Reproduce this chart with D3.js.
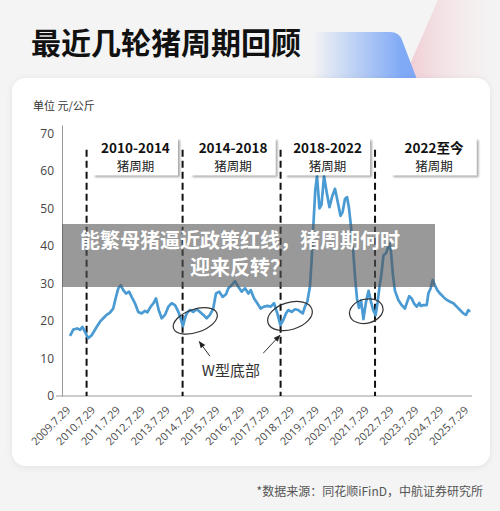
<!DOCTYPE html>
<html><head><meta charset="utf-8">
<script src="https://cdn.jsdelivr.net/npm/d3@7"></script>
<style>
html,body{margin:0;padding:0;background:#f4f4f4;}
svg{display:block;font-family:"Noto Sans CJK SC","Noto Sans",sans-serif;}
</style></head>
<body>
<svg id="c" width="500" height="511"></svg>
<script>
// ---------- data ----------
const dates = ["2009-09-27","2009-11-14","2010-01-12","2010-02-21","2010-03-28","2010-05-04","2010-06-21","2010-08-11","2010-10-23","2010-12-11",
"2011-01-28","2011-03-18","2011-05-06","2011-06-23","2011-08-03","2011-09-06","2011-10-11","2011-11-18","2011-12-27","2012-02-11",
"2012-03-20","2012-05-08","2012-06-25","2012-08-15","2012-10-02","2012-11-06","2012-12-25","2013-02-02","2013-03-12","2013-04-21",
"2013-06-04","2013-07-22","2013-09-10","2013-10-29","2013-12-17","2014-02-04","2014-03-09","2014-04-12","2014-05-11","2014-06-06",
"2014-07-24","2014-09-11","2014-10-29","2014-12-19","2015-02-06","2015-03-26","2015-05-13","2015-07-01","2015-08-10","2015-09-28",
"2015-11-17","2016-01-05","2016-02-08","2016-03-27","2016-05-15","2016-07-03","2016-08-22","2016-10-10","2016-11-28","2017-01-03",
"2017-02-20","2017-04-08","2017-05-27","2017-07-15","2017-09-03","2017-10-22","2017-12-10","2018-01-27","2018-03-14","2018-04-24",
"2018-06-03","2018-07-07","2018-08-26","2018-10-14","2018-12-01","2019-02-05","2019-03-09","2019-04-12","2019-05-21","2019-06-15",
"2019-07-09","2019-08-08","2019-09-02","2019-10-08","2019-11-07","2019-12-14","2020-01-20","2020-03-03","2020-04-09","2020-05-23",
"2020-06-29","2020-08-12","2020-09-11","2020-10-17","2020-11-16","2020-12-15","2021-01-14","2021-02-13","2021-03-12","2021-04-11",
"2021-05-10","2021-06-09","2021-07-15","2021-08-21","2021-09-28","2021-11-04","2021-12-03","2022-01-09","2022-02-08","2022-03-07",
"2022-04-06","2022-05-05","2022-06-11","2022-07-10","2022-08-02","2022-08-23","2022-09-22","2022-10-21","2022-12-09","2023-01-28",
"2023-03-16","2023-04-19","2023-05-18","2023-06-23","2023-07-26","2023-09-05","2023-10-13","2023-11-03","2023-12-11","2024-01-30",
"2024-02-23","2024-03-28","2024-04-27","2024-05-30","2024-07-03","2024-08-13","2024-09-30","2024-11-20","2025-01-07","2025-02-25",
"2025-04-14","2025-06-02","2025-07-20","2025-08-29","2025-10-02","2025-10-27"];
const prices = [16.0,17.7,18.0,17.6,18.4,17.1,15.4,16.2,18.4,19.8,
20.7,21.6,22.2,23.3,26.4,28.7,29.5,28.2,27.3,27.8,
26.4,24.7,22.4,22.0,22.7,22.3,23.8,24.7,26.0,22.9,
20.7,21.6,23.8,24.7,24.2,22.4,20.7,18.6,20.7,22.0,
22.9,22.4,23.1,22.4,21.6,20.7,21.6,23.3,27.3,27.8,
26.4,27.1,28.7,29.5,30.6,29.1,27.8,28.7,27.3,28.2,
26.0,24.7,23.3,23.8,24.0,23.8,24.7,22.0,18.9,20.2,
22.0,22.9,22.4,23.1,22.9,22.0,23.8,25.1,29.1,36.2,
45.0,55.0,58.6,50.0,51.0,58.6,54.5,50.3,53.0,55.2,
52.0,48.0,49.0,52.5,53.0,50.0,45.0,39.0,32.0,26.0,
23.5,25.5,20.5,25.0,28.0,25.0,23.0,21.5,25.0,29.0,
32.7,37.5,38.0,39.5,40.6,38.5,32.0,28.0,25.6,24.2,
23.3,25.1,26.6,26.0,24.7,23.8,24.8,24.0,24.2,24.2,
27.3,28.7,30.9,29.5,28.2,27.3,26.4,25.6,25.1,24.7,
23.8,22.9,22.0,21.6,22.9,22.4];

const xDomain = ["2009-06-01","2025-11-25"];
const yTicks = [0,10,20,30,40,50,60,70];
const yMax = 72.2;
const xTickDates = ["2009-07-29","2010-07-29","2011-07-29","2012-07-29","2013-07-29","2014-07-29","2015-07-29","2016-07-29",
"2017-07-29","2018-07-29","2019-07-29","2020-07-29","2021-07-29","2022-07-29","2023-07-29","2024-07-29","2025-07-29"];
const xTickLabels = ["2009.7.29","2010.7.29","2011.7.29","2012.7.29","2013.7.29","2014.7.29","2015.7.29","2016.7.29",
"2017.7.29","2018.7.29","2019.7.29","2020.7.29","2021.7.29","2022.7.29","2023.7.29","2024.7.29","2025.7.29"];

const boundaryDates = ["2010-05-28","2014-04-07","2018-03-16","2022-01-01"];
const boundaryTop = 65.6;
const cycleNames = ["2010-2014","2014-2018","2018-2022","2022至今"];
const cycleSub = "猪周期";
const cycleLabelDates = ["2012-05-15","2016-04-16","2020-02-03","2024-05-16"];
const cycleLabelTop = 68.7;

const ellipseDates = ["2014-10-10","2018-08-01","2021-08-25"];
const ellipseValues = [20.0,21.3,22.6];
const arrowFrom = [["2015-05-13",10.6],["2017-07-04",11.4]];
const arrowTo = [["2014-12-08",14.5],["2018-03-07",16.2]];
const wNote = {date:"2016-03-17", value:5.3, text:"W型底部"};

const title = "最近几轮猪周期回顾";
const unitText = "单位 元/公斤";
const sourceText = "*数据来源：同花顺iFinD，中航证券研究所";
const bannerLines = ["能繁母猪逼近政策红线，猪周期何时","迎来反转？"];

// ---------- drawing ----------
const parse = d3.timeParse("%Y-%m-%d");
const svg = d3.select("#c");
const defs = svg.append("defs");

const gb = defs.append("linearGradient").attr("id","gBlue").attr("x1","0").attr("x2","1").attr("y1","0").attr("y2","0");
gb.append("stop").attr("offset","0").attr("stop-color","#7aa6f6").attr("stop-opacity",0);
gb.append("stop").attr("offset","0.85").attr("stop-color","#7aa6f6").attr("stop-opacity",0.95);
const gp = defs.append("linearGradient").attr("id","gPink").attr("x1","0").attr("x2","1").attr("y1","0").attr("y2","0");
gp.append("stop").attr("offset","0").attr("stop-color","#eec2cc").attr("stop-opacity",0.85);
gp.append("stop").attr("offset","1").attr("stop-color","#f7e6e6").attr("stop-opacity",0);

const fCard = defs.append("filter").attr("id","fCard").attr("x","-10%").attr("y","-10%").attr("width","120%").attr("height","120%");
fCard.append("feDropShadow").attr("dx",0).attr("dy",1).attr("stdDeviation",3).attr("flood-color","#000").attr("flood-opacity",0.08);
const fBox = defs.append("filter").attr("id","fBox").attr("x","-20%").attr("y","-20%").attr("width","140%").attr("height","150%");
fBox.append("feDropShadow").attr("dx",2).attr("dy",2).attr("stdDeviation",1.2).attr("flood-color","#000").attr("flood-opacity",0.35);

defs.append("marker").attr("id","arr").attr("viewBox","0 0 10 10").attr("refX",9).attr("refY",5)
  .attr("markerWidth",7).attr("markerHeight",7).attr("orient","auto-start-reverse")
  .append("path").attr("d","M0,1 L10,5 L0,9 Z").attr("fill","#222");

// background decoration
svg.append("rect").attr("width",500).attr("height",511).attr("fill","#f4f4f4");
svg.append("path").attr("d","M403,80 L438,0 L500,0 L500,80 Z").attr("fill","url(#gPink)");
svg.append("path").attr("d","M312,32 L390,32 Q399,32 402,40 L418,82 L312,82 Z").attr("fill","url(#gBlue)");

// title
svg.append("text").attr("x",31).attr("y",54).attr("font-size",30).attr("font-weight",700).attr("fill","#111").text(title);

// card
svg.append("rect").attr("x",12).attr("y",78).attr("width",478).attr("height",388).attr("rx",14)
  .attr("fill","#fff").attr("filter","url(#fCard)");

svg.append("text").attr("x",33).attr("y",110).attr("font-size",11).attr("fill","#333").text(unitText);

const x = d3.scaleTime().domain(xDomain.map(parse)).range([62,472]);
const y = d3.scaleLinear().domain([0,yMax]).range([396,125]);

// y axis
const yAx = svg.append("g").attr("transform",`translate(${x.range()[0]},0)`)
  .call(d3.axisLeft(y).tickValues(yTicks).tickSize(0).tickPadding(8));
yAx.select(".domain").attr("stroke","#999");
yAx.selectAll("text").attr("font-size",12).attr("fill","#444").attr("font-family","Open Sans, Noto Sans, sans-serif");

// x axis
const xAx = svg.append("g").attr("transform",`translate(0,${y(0)})`)
  .call(d3.axisBottom(x).tickValues(xTickDates.map(parse)).tickSize(0).tickFormat((d,i)=>xTickLabels[i]));
xAx.select(".domain").remove();
svg.append("line").attr("x1",x.range()[0]-6).attr("x2",x.range()[1]).attr("y1",y(0)).attr("y2",y(0)).attr("stroke","#999");
xAx.selectAll("text").attr("font-size",11).attr("fill","#4a4a4a").attr("font-family","Open Sans, Noto Sans, sans-serif")
  .attr("text-anchor","end").attr("y",0).attr("dy","0.35em").attr("transform","translate(2,12) rotate(-45)");

// boundary dashed lines
svg.append("g").selectAll("line").data(boundaryDates).join("line")
  .attr("x1",d=>x(parse(d))).attr("x2",d=>x(parse(d)))
  .attr("y1",y(boundaryTop)).attr("y2",y(0))
  .attr("stroke","#111").attr("stroke-width",2).attr("stroke-dasharray","7,4");

// price line
const pts = dates.map((d,i)=>({d:parse(d), v:prices[i]}));
svg.append("path").datum(pts)
  .attr("fill","none").attr("stroke","#4a9ad3").attr("stroke-width",2.7).attr("stroke-linejoin","round")
  .attr("d", d3.line().x(p=>x(p.d)).y(p=>y(p.v)));

// cycle label boxes
const boxW = 85, boxH = 37;
const cg = svg.append("g").selectAll("g").data(cycleNames).join("g")
  .attr("transform",(d,i)=>`translate(${x(parse(cycleLabelDates[i]))},${y(cycleLabelTop)})`);
cg.append("rect").attr("x",-boxW/2).attr("y",0).attr("width",boxW).attr("height",boxH).attr("fill","#fff").attr("filter","url(#fBox)");
cg.append("text").attr("y",14.5).attr("text-anchor","middle").attr("font-size",13.5).attr("font-weight",700).attr("fill","#111").text(d=>d);
cg.append("text").attr("y",32.5).attr("text-anchor","middle").attr("font-size",12.5).attr("fill","#222").text(cycleSub);

// ellipses
const eRx = [23,23,17], eRy = [11.5,13.5,12], eRot = [-19,-17,-14];
svg.append("g").selectAll("ellipse").data(ellipseDates).join("ellipse")
  .attr("cx",0).attr("cy",0).attr("rx",(d,i)=>eRx[i]).attr("ry",(d,i)=>eRy[i])
  .attr("transform",(d,i)=>`translate(${x(parse(d))},${y(ellipseValues[i])}) rotate(${eRot[i]})`)
  .attr("fill","none").attr("stroke","#333").attr("stroke-width",1.2);

// arrows
svg.append("g").selectAll("line").data(arrowFrom).join("line")
  .attr("x1",d=>x(parse(d[0]))).attr("y1",d=>y(d[1]))
  .attr("x2",(d,i)=>x(parse(arrowTo[i][0]))).attr("y2",(d,i)=>y(arrowTo[i][1]))
  .attr("stroke","#333").attr("stroke-width",1).attr("marker-end","url(#arr)");

svg.append("text").attr("x",x(parse(wNote.date))).attr("y",y(wNote.value)).attr("text-anchor","middle")
  .attr("font-size",15).attr("fill","#333").text(wNote.text);

// source
svg.append("text").attr("x",483).attr("y",496).attr("text-anchor","end").attr("font-size",12).attr("fill","#555").text(sourceText);

// overlay banner
svg.append("rect").attr("x",62).attr("y",224).attr("width",373).attr("height",63).attr("fill","rgba(85,85,85,0.6)");
svg.append("g").selectAll("text").data(bannerLines).join("text")
  .attr("x",240).attr("y",(d,i)=>248+i*27).attr("text-anchor","middle")
  .attr("font-size",20).attr("font-weight",700).attr("fill","#fff").text(d=>d);
</script>
</body></html>
